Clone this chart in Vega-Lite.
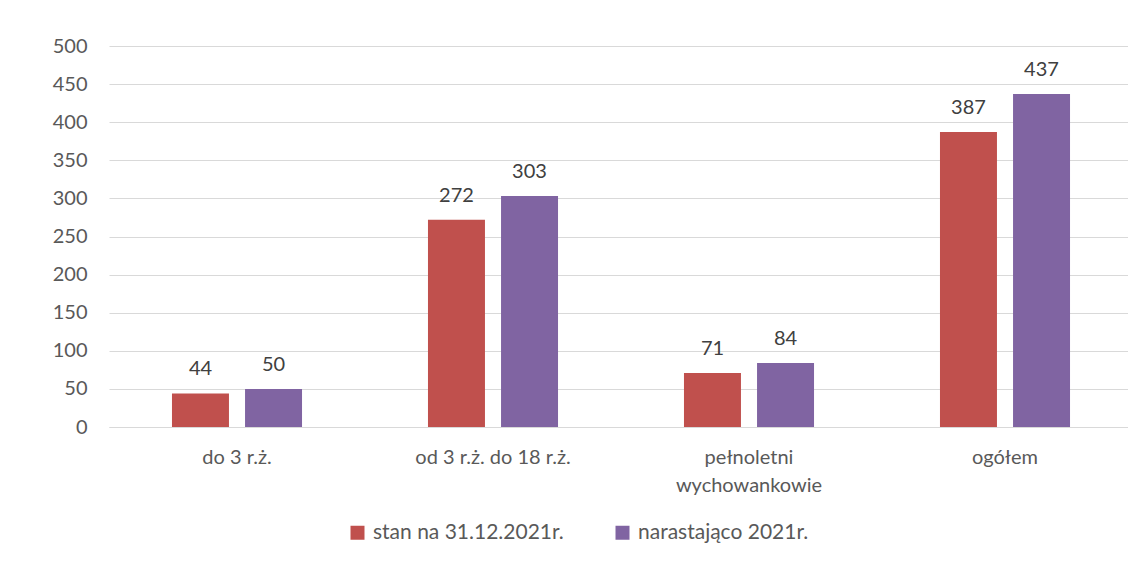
{
  "$schema": "https://vega.github.io/schema/vega-lite/v6.json",
  "autosize": "none",
  "width": 1024,
  "height": 381,
  "padding": {"left": 109, "top": 46, "right": 0, "bottom": 140},
  "background": "white",
  "config": {
    "view": {"stroke": null},
    "font": "Lato",
    "axis": {"labelFont": "Lato", "labelFontSize": 20, "labelColor": "#595959"},
    "legend": {"labelFont": "Lato", "labelFontSize": 21, "labelColor": "#595959"}
  },
  "data": {
    "values": [
      {"kategoria": "do 3 r.ż.", "seria": "stan na 31.12.2021r.", "wartosc": 44},
      {"kategoria": "do 3 r.ż.", "seria": "narastająco 2021r.", "wartosc": 50},
      {"kategoria": "od 3 r.ż. do 18 r.ż.", "seria": "stan na 31.12.2021r.", "wartosc": 272},
      {"kategoria": "od 3 r.ż. do 18 r.ż.", "seria": "narastająco 2021r.", "wartosc": 303},
      {"kategoria": "pełnoletni wychowankowie", "seria": "stan na 31.12.2021r.", "wartosc": 71},
      {"kategoria": "pełnoletni wychowankowie", "seria": "narastająco 2021r.", "wartosc": 84},
      {"kategoria": "ogółem", "seria": "stan na 31.12.2021r.", "wartosc": 387},
      {"kategoria": "ogółem", "seria": "narastająco 2021r.", "wartosc": 437}
    ]
  },
  "encoding": {
    "x": {
      "field": "kategoria",
      "type": "nominal",
      "sort": ["do 3 r.ż.", "od 3 r.ż. do 18 r.ż.", "pełnoletni wychowankowie", "ogółem"],
      "scale": {"paddingInner": 0.492, "paddingOuter": 0.246},
      "axis": {
        "title": null,
        "labelAngle": 0,
        "ticks": false,
        "domain": true,
        "domainColor": "#d9d9d9",
        "labelPadding": 20,
        "labelLineHeight": 28,
        "labelExpr": "datum.label == 'pełnoletni wychowankowie' ? ['pełnoletni', 'wychowankowie'] : datum.label"
      }
    },
    "xOffset": {
      "field": "seria",
      "type": "nominal",
      "sort": ["stan na 31.12.2021r.", "narastająco 2021r."],
      "scale": {"paddingInner": 0.22, "paddingOuter": 0}
    },
    "y": {
      "field": "wartosc",
      "type": "quantitative",
      "scale": {"domain": [0, 500]},
      "axis": {
        "title": null,
        "values": [0, 50, 100, 150, 200, 250, 300, 350, 400, 450, 500],
        "ticks": false,
        "domain": false,
        "gridColor": "#d9d9d9",
        "gridWidth": 1,
        "labelPadding": 22
      }
    }
  },
  "layer": [
    {
      "mark": {"type": "bar"},
      "encoding": {
        "color": {
          "field": "seria",
          "type": "nominal",
          "sort": ["stan na 31.12.2021r.", "narastająco 2021r."],
          "scale": {"domain": ["stan na 31.12.2021r.", "narastająco 2021r."], "range": ["#C0504D", "#8064A2"]},
          "legend": {
            "title": null,
            "orient": "none",
            "direction": "horizontal",
            "legendX": 238,
            "legendY": 476,
            "symbolType": "square",
            "symbolSize": 196,
            "symbolStrokeWidth": 0,
            "symbolOpacity": 1,
            "labelOffset": 5,
            "labelLimit": 400,
            "columnPadding": 48
          }
        }
      }
    },
    {
      "mark": {"type": "text", "baseline": "alphabetic", "dy": -18, "fontSize": 20, "color": "#404040", "font": "Lato"},
      "encoding": {
        "text": {"field": "wartosc", "type": "quantitative"}
      }
    }
  ]
}
